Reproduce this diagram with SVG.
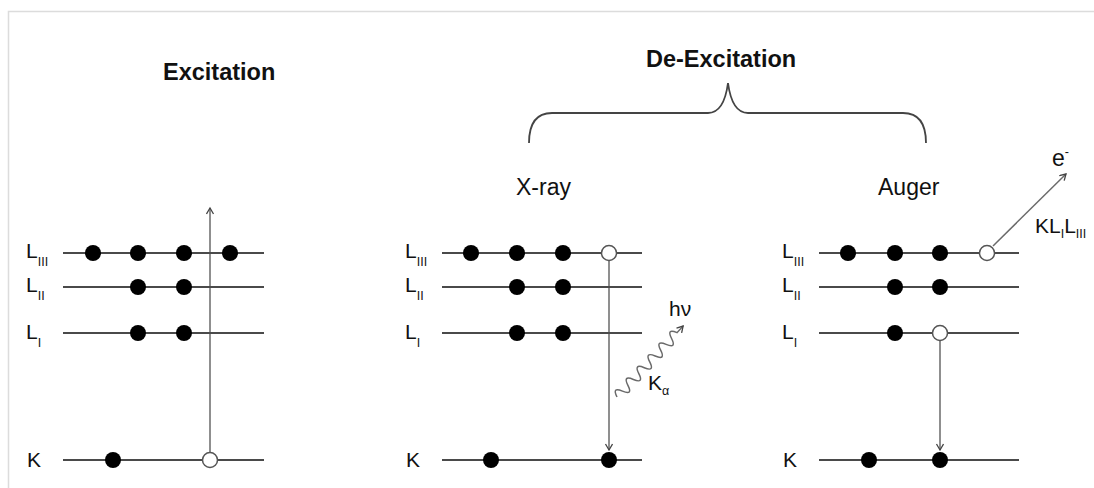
<svg xmlns="http://www.w3.org/2000/svg" width="1094" height="488" viewBox="0 0 1094 488">
<style>
.lvl{stroke:#4a4a4a;stroke-width:2;fill:none}
.tr{stroke:#6a6a6a;stroke-width:1.5;fill:none}
.dot{fill:#000}
.hole{fill:#fff;stroke:#555;stroke-width:1.5}
.lab{font-family:"Liberation Sans",Arial,sans-serif;fill:#111}
.big{font-size:21px}
.sub{font-size:12.5px}
.ttl{font-size:23.5px;font-weight:bold}
.cap{font-size:23px}
</style>
<defs>
<marker id="ah" markerWidth="10" markerHeight="10" refX="7" refY="4" orient="auto" markerUnits="userSpaceOnUse">
<path d="M1,0.5 L7,4 L1,7.5" fill="none" stroke="#444" stroke-width="1.3"/>
</marker>
</defs>
<rect width="1094" height="488" fill="#fff"/>
<path d="M8.5,488 V11.5 H1094" fill="none" stroke="#dcdcdc" stroke-width="1.5"/>

<text class="lab ttl" x="163" y="80">Excitation</text>
<text class="lab ttl" x="646" y="67">De-Excitation</text>
<path id="brace" d="M529,143 Q529,113 552,113 H708 Q724,113 728,83 Q732,113 748,113 H903 Q926,113 926,143" fill="none" stroke="#444" stroke-width="1.8"/>
<text class="lab cap" x="516" y="195">X-ray</text>
<text class="lab cap" x="878" y="195">Auger</text>

<g id="connectors">
<line class="tr" x1="210" y1="452" x2="210" y2="208" marker-end="url(#ah)"/>
<line class="tr" x1="609" y1="261" x2="609" y2="450" marker-end="url(#ah)"/>
<line class="tr" x1="940" y1="341" x2="940" y2="450" marker-end="url(#ah)"/>
<line class="tr" stroke="#333" x1="993" y1="246" x2="1066" y2="174" marker-end="url(#ah)"/>
<g transform="translate(617,397) rotate(-47)">
<path class="tr" stroke="#444" d="M0,0 q4,-11 8,0 t8,0 t8,0 t8,0 t8,0 t8,0 t8,0 t8,0 t8,0 t8,0 t8,0 L97,0" marker-end="url(#ah)"/>
</g>
</g>

<g id="excitation">
<line class="lvl" x1="63" y1="253" x2="264" y2="253"/>
<line class="lvl" x1="63" y1="287" x2="264" y2="287"/>
<line class="lvl" x1="63" y1="333" x2="264" y2="333"/>
<line class="lvl" x1="63" y1="460" x2="264" y2="460"/>
<circle class="dot" cx="93" cy="253" r="8"/><circle class="dot" cx="138" cy="253" r="8"/><circle class="dot" cx="184" cy="253" r="8"/><circle class="dot" cx="230" cy="253" r="8"/>
<circle class="dot" cx="138" cy="287" r="8"/><circle class="dot" cx="184" cy="287" r="8"/>
<circle class="dot" cx="138" cy="333" r="8"/><circle class="dot" cx="184" cy="333" r="8"/>
<circle class="dot" cx="113" cy="460" r="8"/><circle class="hole" cx="210" cy="460" r="7.5"/>
<text class="lab big" x="26" y="258">L<tspan class="sub" dy="8">III</tspan></text>
<text class="lab big" x="26" y="292">L<tspan class="sub" dy="8">II</tspan></text>
<text class="lab big" x="26" y="339">L<tspan class="sub" dy="8">I</tspan></text>
<text class="lab big" x="27" y="467">K</text>
</g>

<g id="xray">
<line class="lvl" x1="442" y1="253" x2="642" y2="253"/>
<line class="lvl" x1="442" y1="287" x2="642" y2="287"/>
<line class="lvl" x1="442" y1="333" x2="642" y2="333"/>
<line class="lvl" x1="442" y1="460" x2="642" y2="460"/>
<circle class="dot" cx="471" cy="253" r="8"/><circle class="dot" cx="517" cy="253" r="8"/><circle class="dot" cx="563" cy="253" r="8"/><circle class="hole" cx="609" cy="253" r="7.5"/>
<circle class="dot" cx="517" cy="287" r="8"/><circle class="dot" cx="563" cy="287" r="8"/>
<circle class="dot" cx="517" cy="333" r="8"/><circle class="dot" cx="563" cy="333" r="8"/>
<circle class="dot" cx="491" cy="460" r="8"/><circle class="dot" cx="609" cy="460" r="8"/>
<text class="lab big" x="405" y="258">L<tspan class="sub" dy="8">III</tspan></text>
<text class="lab big" x="405" y="292">L<tspan class="sub" dy="8">II</tspan></text>
<text class="lab big" x="405" y="339">L<tspan class="sub" dy="8">I</tspan></text>
<text class="lab big" x="406" y="467">K</text>
<text class="lab big" x="669" y="316">hν</text>
<text class="lab big" x="648" y="390">K<tspan class="sub" dy="5">α</tspan></text>
</g>

<g id="auger">
<line class="lvl" x1="819" y1="253" x2="1019" y2="253"/>
<line class="lvl" x1="819" y1="287" x2="1019" y2="287"/>
<line class="lvl" x1="819" y1="333" x2="1019" y2="333"/>
<line class="lvl" x1="819" y1="460" x2="1019" y2="460"/>
<circle class="dot" cx="848" cy="253" r="8"/><circle class="dot" cx="895" cy="253" r="8"/><circle class="dot" cx="940" cy="253" r="8"/><circle class="hole" cx="987" cy="253" r="7.5"/>
<circle class="dot" cx="895" cy="287" r="8"/><circle class="dot" cx="940" cy="287" r="8"/>
<circle class="dot" cx="895" cy="333" r="8"/><circle class="hole" cx="940" cy="333" r="7.5"/>
<circle class="dot" cx="869" cy="460" r="8"/><circle class="dot" cx="940" cy="460" r="8"/>
<text class="lab big" x="782" y="258">L<tspan class="sub" dy="8">III</tspan></text>
<text class="lab big" x="782" y="292">L<tspan class="sub" dy="8">II</tspan></text>
<text class="lab big" x="782" y="339">L<tspan class="sub" dy="8">I</tspan></text>
<text class="lab big" x="783" y="467">K</text>
<text class="lab cap" x="1052" y="166">e<tspan class="sub" dy="-10">-</tspan></text>
<text class="lab big" x="1035" y="233">KL<tspan class="sub" dy="5">I</tspan><tspan dy="-5">L</tspan><tspan class="sub" dy="5">III</tspan></text>
</g>
</svg>
